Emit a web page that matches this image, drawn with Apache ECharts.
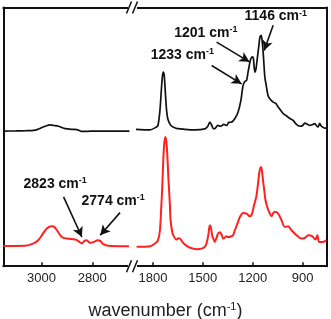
<!DOCTYPE html>
<html>
<head>
<meta charset="utf-8">
<script src="https://cdn.jsdelivr.net/npm/echarts@6/dist/echarts.min.js"></script>
<style>html,body{margin:0;padding:0;background:#fff}#c{width:331px;height:319px}</style>
</head>
<body>
<div id="c"></div>
<script>
// wavenumber (cm-1) ticks
const leftTicks = [3000, 2800];
const rightTicks = [1800, 1500, 1200, 900];
const leftRange = [2640, 3150];
const rightRange = [755, 1920];

// black trace (upper spectrum): [wavenumber, intensity]
const blackLeft = [[3150,52.2],[3100,52.3],[3060,52.4],[3031,52.5],[3015,52.9],[2998,53.6],[2980,54.3],[2966,54.6],[2950,54.4],[2933,54.1],[2920,53.6],[2907,53.2],[2880,52.9],[2861,52.8],[2850,52.4],[2841,52.1],[2825,52.1],[2809,52.2],[2760,52.2],[2700,52.2],[2654,52.2]];
const blackRight = [[1902,52.9],[1818,52.7],[1782,53.7],[1770,54.4],[1758,60.2],[1749,68.7],[1743,73.4],[1738,75.0],[1732,73.7],[1728,69.9],[1719,61.0],[1710,56.8],[1692,54.4],[1662,53.3],[1648,53.2],[1608,52.9],[1548,52.7],[1488,53.1],[1470,54.1],[1458,55.7],[1446,54.4],[1437,53.2],[1428,53.2],[1410,54.4],[1392,54.1],[1374,54.8],[1356,54.4],[1344,55.6],[1327,55.7],[1307,57.1],[1288,59.6],[1271,64.1],[1258,69.9],[1247,71.4],[1237,71.8],[1228,75.0],[1217,78.8],[1211,80.2],[1202,80.9],[1196,80.3],[1187,75.0],[1180,76.4],[1174,79.5],[1163,85.3],[1157,88.4],[1150,89.2],[1145,88.0],[1138,83.4],[1132,77.6],[1127,73.1],[1117,69.2],[1108,66.0],[1097,64.7],[1077,63.4],[1061,62.9],[1047,61.5],[1031,60.2],[1017,59.0],[1001,58.3],[987,57.6],[971,56.9],[957,56.4],[937,54.8],[917,54.1],[899,54.4],[887,55.3],[869,54.8],[857,54.4],[839,54.8],[827,55.1],[818,54.4],[807,53.8],[797,55.2],[787,54.1],[767,53.4],[755,53.4]];

// red trace (lower spectrum)
const redLeft = [[3150,7.8],[3064,7.9],[3031,8.8],[3013,10.0],[2998,12.0],[2979,14.6],[2959,15.4],[2950,15.2],[2939,13.9],[2920,11.3],[2900,10.7],[2867,10.3],[2856,9.8],[2841,8.8],[2832,9.7],[2823,10.0],[2815,9.5],[2809,9.0],[2796,9.3],[2778,10.0],[2769,9.8],[2755,8.4],[2728,7.8],[2656,7.7]];
const redRight = [[1898,7.5],[1818,7.7],[1788,8.8],[1770,10.0],[1758,13.9],[1751,21.6],[1744,30.6],[1738,40.9],[1732,47.5],[1725,49.9],[1719,47.9],[1714,43.6],[1708,35.1],[1704,30.6],[1698,23.6],[1694,17.8],[1686,13.9],[1678,12.0],[1658,10.3],[1647,10.8],[1638,10.7],[1618,9.0],[1588,7.5],[1558,6.8],[1536,6.6],[1507,6.8],[1488,7.5],[1478,8.8],[1467,12.0],[1458,15.8],[1452,15.1],[1444,12.0],[1434,10.2],[1428,9.4],[1419,10.8],[1408,12.6],[1398,13.1],[1393,12.9],[1386,12.0],[1378,10.7],[1368,11.0],[1359,11.6],[1348,11.3],[1327,11.6],[1318,12.0],[1307,13.9],[1289,17.0],[1277,19.0],[1258,20.6],[1237,20.3],[1217,19.3],[1205,20.1],[1192,23.6],[1178,27.0],[1168,31.9],[1160,36.3],[1151,38.3],[1145,37.1],[1138,33.2],[1130,29.0],[1123,25.5],[1112,22.8],[1097,20.3],[1087,19.3],[1077,20.5],[1067,21.0],[1047,20.3],[1027,17.8],[1007,15.2],[987,15.4],[967,13.9],[937,12.0],[907,10.7],[897,10.7],[881,11.2],[867,12.0],[843,11.6],[823,10.3],[811,12.0],[801,9.4],[777,9.4],[757,10.0]];

// annotations: label text, label anchor, arrow start, arrow tip
const rightNotes = ['1146', '1201', '1233'];
const rightNoteAt = [[1061,96.5],[1482,90.0],[1623,81.5]];
const rightArrowFrom = [[1077,93.1],[1417,86.6],[1447,77.6]];
const rightArrowTo = [[1131,83.4],[1220,79.0],[1267,70.5]];
const leftNotes = ['2823', '2774'];
const leftNoteAt = [[2946,31.9],[2718,25.1]];
const leftArrowFrom = [[2913,26.8],[2691,20.7]];
const leftArrowTo = [[2841,11.3],[2769,12.0]];

const FONT = '"Liberation Sans", Arial, sans-serif';
const noteRich = {
  m: {fontSize: 14, fontWeight: 'bold', fontFamily: FONT, color: '#111', lineHeight: 16},
  s: {fontSize: 9, fontWeight: 'bold', fontFamily: FONT, color: '#111', lineHeight: 10, verticalAlign: 'top'}
};
function notePoints(texts, at) {
  return texts.map((t, i) => ({
    coord: at[i],
    symbol: 'circle', symbolSize: 1,
    itemStyle: {color: 'rgba(0,0,0,0)'},
    label: {show: true, position: 'inside', formatter: '{m|' + t + ' cm}{s|-1}', rich: noteRich}
  }));
}
function arrows(from, to) {
  return from.map((f, i) => [{coord: f}, {coord: to[i]}]);
}
const markLineBase = {
  silent: true, symbol: ['none', 'arrow'], symbolSize: [8, 10], animation: false,
  label: {show: false}, lineStyle: {color: '#111', width: 1.6, type: 'solid'},
  emphasis: {disabled: true}
};

const chart = echarts.init(document.getElementById('c'), null, {renderer: 'canvas'});
const axisLineStyle = {color: '#111', width: 2};
function bottomAxis(grid, range, ticks) {
  return {
    type: 'value', gridIndex: grid, inverse: true, min: range[0], max: range[1], position: 'bottom',
    axisLine: {show: true, onZero: false, lineStyle: axisLineStyle},
    axisTick: {show: true, inside: true, length: 4, lineStyle: {color: '#111', width: 1.5}, customValues: ticks},
    axisLabel: {show: true, margin: 6, fontSize: 13, fontFamily: FONT, color: '#222', customValues: ticks,
                formatter: v => String(v)},
    splitLine: {show: false}
  };
}
function topAxis(grid, range) {
  return {
    type: 'value', gridIndex: grid, inverse: true, min: range[0], max: range[1], position: 'top',
    axisLine: {show: true, onZero: false, lineStyle: axisLineStyle},
    axisTick: {show: false}, axisLabel: {show: false}, splitLine: {show: false}
  };
}
function yAx(grid, pos) {
  return {
    type: 'value', gridIndex: grid, min: 0, max: 100, position: pos,
    axisLine: {show: true, onZero: false, lineStyle: axisLineStyle},
    axisTick: {show: false}, axisLabel: {show: false}, splitLine: {show: false}
  };
}
function brk(yc) {
  return [
    {type: 'rect', shape: {x: 128, y: yc - 2.5, width: 9, height: 5}, style: {fill: '#fff'}, z: 100},
    {type: 'line', shape: {x1: 126.5, y1: yc + 6, x2: 131.5, y2: yc - 6}, style: {stroke: '#111', lineWidth: 1.5}, z: 101},
    {type: 'line', shape: {x1: 132.5, y1: yc + 6, x2: 137.5, y2: yc - 6}, style: {stroke: '#111', lineWidth: 1.5}, z: 101}
  ];
}

chart.setOption({
  animation: false,
  backgroundColor: '#fff',
  title: [{
    text: '{m|wavenumber (cm}{s|-1}{m|)}', left: 'center', top: 296,
    textStyle: {
      fontWeight: 'normal',
      rich: {
        m: {fontSize: 18, fontWeight: 'normal', fontFamily: FONT, color: '#222', lineHeight: 20},
        s: {fontSize: 11, fontWeight: 'normal', fontFamily: FONT, color: '#222', lineHeight: 12, verticalAlign: 'top'}
      }
    }
  }],
  grid: [
    {left: 3.3, top: 7.5, width: 129.7, bottom: 52.8},
    {left: 133, top: 7.5, right: 4.3, bottom: 52.8}
  ],
  xAxis: [bottomAxis(0, leftRange, leftTicks), bottomAxis(1, rightRange, rightTicks), topAxis(0, leftRange), topAxis(1, rightRange)],
  yAxis: [yAx(0, 'left'), yAx(1, 'right')],
  series: [
    {type: 'line', xAxisIndex: 0, yAxisIndex: 0, data: blackLeft, showSymbol: false, clip: false, smooth: 0.3,
     lineStyle: {color: '#111', width: 1.7}, silent: true},
    {type: 'line', xAxisIndex: 1, yAxisIndex: 1, data: blackRight, showSymbol: false, clip: false, smooth: 0.3,
     lineStyle: {color: '#111', width: 1.7}, silent: true,
     markLine: Object.assign({data: arrows(rightArrowFrom, rightArrowTo)}, markLineBase),
     markPoint: {silent: true, animation: false, data: notePoints(rightNotes, rightNoteAt)}},
    {type: 'line', xAxisIndex: 0, yAxisIndex: 0, data: redLeft, showSymbol: false, clip: false, smooth: 0.3,
     lineStyle: {color: '#ff2020', width: 2}, silent: true,
     markLine: Object.assign({data: arrows(leftArrowFrom, leftArrowTo)}, markLineBase),
     markPoint: {silent: true, animation: false, data: notePoints(leftNotes, leftNoteAt)}},
    {type: 'line', xAxisIndex: 1, yAxisIndex: 1, data: redRight, showSymbol: false, clip: false, smooth: 0.3,
     lineStyle: {color: '#ff2020', width: 2}, silent: true}
  ],
  graphic: brk(7.5).concat(brk(266.2))
});
</script>
</body>
</html>
